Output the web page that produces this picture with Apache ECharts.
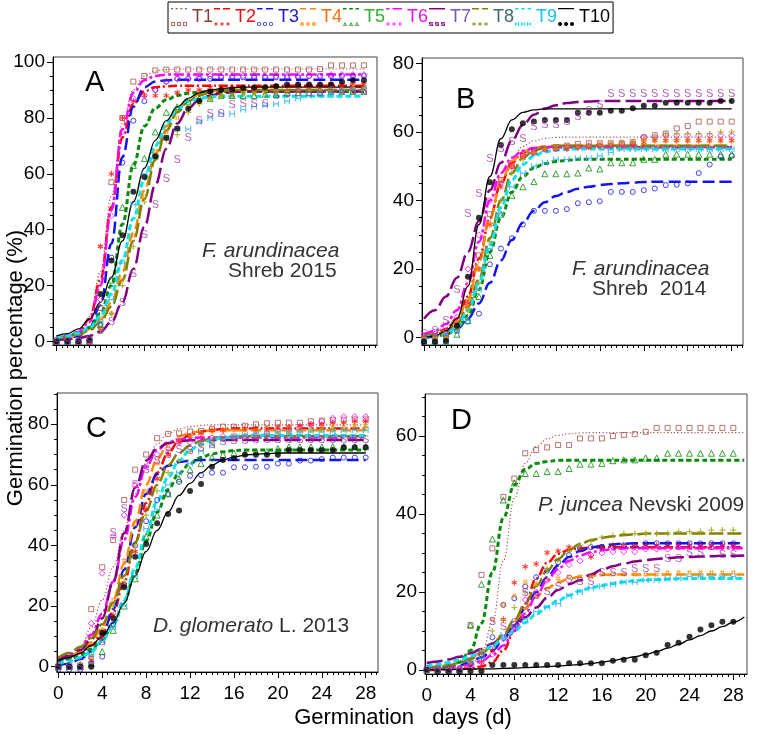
<!DOCTYPE html>
<html><head><meta charset="utf-8">
<script src="https://cdn.jsdelivr.net/npm/echarts@6/dist/echarts.min.js"></script>
<style>html,body{margin:0;padding:0;background:#fff}#c{width:758px;height:734px}</style>
</head><body><div id="c"></div>
<script>
// ---------------- DATA ----------------
const days  = [0,1,2,3,4,5,6,7,8,9,10,11,12,13,14,15,16,17,18,19,20,21,22,23,24,25,26,27,28];
const daysD = [0,1,2,3,4,5,6,7,8,9,10,11,12,13,14,15,16,17,18,19,20,21,22,23,24,25,26,27,28,29];
const names = ['T1','T2','T3','T4','T5','T6','T7','T8','T9','T10'];
const xLabelVals = [0,4,8,12,16,20,24,28];
const yLabelsA = [0,20,40,60,80,100];
const yLabelsB = [0,20,40,60,80];
const yLabelsC = [0,20,40,60,80];
const yLabelsD = [0,20,40,60];

// Panel A (F. arundinacea Shreb 2015) : fitted curves (c) and observed points (p)
const A_T1_c=[0.5,1,2.5,9,25,52,78,90,95,96.8,97.3,97.5,97.5,97.5,97.5,97.5,97.5,97.5,97.5,97.5,97.5,97.5,97.5,97.5,97.5,97.5,97.5,97.5,97.5];
const A_T1_p=[0,0,0,0,12,57,80,93,95,97,97.3,97.3,97.3,97.3,97.3,97.3,97.3,97.3,97.3,97.3,97.3,97.3,97.3,97.3,97.5,98.8,98.8,98.8,98.8];
const A_T2_c=[1,1.5,3,8,22,48,73,85,89.5,91,91.3,91.5,91.5,91.5,91.5,91.5,91.5,91.5,91.5,91.5,91.5,91.5,91.5,91.5,91.5,91.5,91.5,91.5,91.5];
const A_T2_p=[0,0,0,1,34,60,80,86,88,88,88,89,90,90,91,91,91,91,91,91,91.5,91.5,91.5,91.5,91.5,92,92,92,92];
const A_T3_c=[0.5,1,2,5,13,35,66,84,91,93,93.5,93.7,93.7,93.7,93.7,93.7,93.7,93.7,93.7,93.7,93.7,93.7,93.7,93.7,93.7,93.7,93.7,93.7,93.7];
const A_T3_p=[0,0,0,0,6,30,64,79,86,90,93,94,94,94,94,94.5,94.5,94.5,94.5,94.5,94.5,94.5,94.5,95,95,95,95,95,95];
const A_T4_c=[1,1.5,2.5,4.5,8,14,25,39,54,67,77,83,86.5,88.5,89.5,90,90,90,90,90,90,90,90,90,90,90,90,90,90];
const A_T4_p=[0,0,0,0,5,10,22,38,52,68,75,80,84,86,87,88,88,89,89,89,89.5,89.5,89.5,90,90,90,90,90.5,90.5];
const A_T5_c=[1.5,2,3,5,10,20,42,63,77,83.5,86.5,88,88.8,89.2,89.5,89.5,89.5,89.5,89.5,89.5,89.5,89.5,89.5,89.5,89.5,89.5,89.5,89.5,89.5];
const A_T5_p=[0,0,0,0,6,22,48,63,65.5,75,82,84,86,87,87,88,88,88,88,88.5,88.5,89,89,89,89,89.5,89.5,89.5,89.5];
const A_T6_c=[1,2,3.5,7,20,47,76,89,93.5,95,95.5,95.5,95.5,95.5,95.5,95.5,95.5,95.5,95.5,95.5,95.5,95.5,95.5,95.5,95.5,95.5,95.5,95.5,95.5];
const A_T6_p=[0,0,0,0,15,45,75,87,88,90,93,94,94,94.5,95,95,95,95,95,95,95,95,95,95,95,95.5,95.5,95.5,95.5];
const A_T7_c=[0.5,0.8,1.2,2,3.5,7,14,26,41,56,69,78,83.5,86.5,88,88.8,89.2,89.5,89.5,89.5,89.5,89.5,89.5,89.5,89.5,89.5,89.5,89.5,89.5];
const A_T7_p=[0,0,0,0,3.6,7,13.7,24,38,49,58,65,73,79,81.5,81.5,84.5,85,85,85,88,88.5,89,89,89,89.5,89.5,89.5,89.5];
const A_T8_c=[1,1.5,2.5,4,7,12.5,22,36,51,65,75.5,82,86,88,89.2,89.8,90,90,90,90,90,90,90,90,90,90,90,90,90];
const A_T8_p=[0,0,0,0,4,10,20,34,50,65.5,72,74,82,85,87,88,89,89,89,89.5,89.5,89.5,90,90,90,90,90,90.5,90.5];
const A_T9_c=[1.5,2,3,5,9,17,29,44,58,70,78,83,86,87,87.5,87.8,87.8,87.8,87.8,87.8,87.8,87.8,87.8,87.8,87.8,87.8,87.8,87.8,87.8];
const A_T9_p=[0,0,0,1,7,15,28,49,60,66,73,76,76,78.6,80,81.5,81.5,83,84,84.5,85,86,87,88,88.5,89,89.5,90,90];
const A_T10_c=[2,2.8,4.5,8,14,23,36,50,62,72,79,84,87,89,90,90.5,90.8,91,91,91,91,91,91,91,91,91,91,91,91];
const A_T10_p=[0,0,0,0.5,17,29,38,53.6,58.9,66.3,72.9,76.2,83.3,86.1,89.5,90,90.2,90.7,90.8,91,91.3,92,92,92,92,92,92.9,93.5,93.5];

// Panel B (F. arundinacea Shreb 2014)
const B_T1_c=[1,1.8,3,6,12,22,34,45,52,55.8,57.4,58.1,58.4,58.5,58.5,58.5,58.5,58.5,58.5,58.5,58.5,58.5,58.5,58.5,58.5,58.5,58.5,58.5,58.5];
const B_T1_p=[0,0,1,3,10,24,36,46,50,53,54,55,55.5,56,56.5,56.7,56.7,56.7,56.7,57,58.4,59,59.5,61,61.7,63,63,63,63];
const B_T2_c=[0.5,1,2.5,5.5,12,23,35,45,51,54,55,55.5,55.5,55.5,55.5,55.5,55.5,55.5,55.5,55.5,55.5,55.5,55.5,55.5,55.5,55.5,55.5,55.5,55.5];
const B_T2_p=[0,0,0,4,10,20,33,44,50,53,54,55,55,55,55.5,55.5,56,56,56,56.5,57,57.5,57.5,57.5,57.5,57.5,57.5,57.5,57.5];
const B_T3_c=[0,0.3,1,2.5,5.5,10,16,22.5,28.5,33.5,37,39.5,41.3,42.5,43.4,44,44.5,44.8,45,45.2,45.4,45.5,45.5,45.5,45.5,45.5,45.5,45.5,45.5];
const B_T3_p=[-1,-1,0,2,4.7,7,21.4,26,29,33,37,37,37,37.5,39.2,39.5,39.8,42.5,42.5,42.5,43,43.5,44.5,44.6,45,48,50.5,52.8,53];
const B_T4_c=[0.5,1,2,5,11,22,35,45.5,51.5,54.2,55.3,55.8,56,56,56,56,56,56,56,56,56,56,56,56,56,56,56,56,56];
const B_T4_p=[0,0,0,3,9,20,33,46,50,53,54,55,55.5,56,56,56,56.5,56.5,56.5,57,57,57.5,57.5,57.5,57.5,57.5,57.5,57.5,57.5];
const B_T5_c=[0,0.3,1,2.5,6.5,14,25,35,42.5,47,49.5,50.8,51.4,51.7,52,52,52,52,52,52,52,52,52,52,52,52,52,52,52];
const B_T5_p=[-1,-1,-1,1,5,12,24,36,41.5,44,45.5,47.8,47.8,47.8,48,49.5,49.2,51,51,51,52,52,53.5,53.5,53.5,53.5,53.5,53.5,53.5];
const B_T6_c=[1,2,4,8,16,28,40,48,52.5,54.5,55.3,55.6,55.6,55.6,55.6,55.6,55.6,55.6,55.6,55.6,55.6,55.6,55.6,55.6,55.6,55.6,55.6,55.6,55.6];
const B_T6_p=[0,1,2,6,20,30,40,45,50,53,54,55,55,55.5,55.5,56,56,56,56.5,56.5,58.5,58.5,59,59,59,59,59,59,59];
const B_T7_c=[5.5,8,12,17.5,25,34,43,51,57.5,62,65,66.8,67.8,68.4,68.7,68.9,69,69,69,69,69,69,69,69,69,69,69,69,69];
const B_T7_p=[1,2,5,14,36,42,52,55,57,58,61.5,62,62,63,64.5,66,67.8,71.2,71.2,71.2,71.2,71.2,71.2,71.2,71.2,71.2,71.2,71.2,71.2];
const B_T8_c=[0.5,1,2,4,9,17,29,40,48,52.5,54.5,55.5,56,56,56,56,56,56,56,56,56,56,56,56,56,56,56,56,56];
const B_T8_p=[0,0,0,2,8,16,28,40,48,52,54,55,55,55.5,55.5,56,56,56.5,57,57,58,58.5,59.5,59.5,59.5,59.5,59.5,60,60];
const B_T9_c=[0,0.5,1,3,8,16,27,38,46,50.5,53,54.2,54.7,55,55,55,55,55,55,55,55,55,55,55,55,55,55,55,55];
const B_T9_p=[-1,-1,-1,2,5,14,26,36,44,48,50,51,52,52,52.3,52.3,53,54,55,55,55,55,55,55,55,55,55,55,55];
const B_T10_c=[0,0.5,2,5.5,15,33,47,58,63.5,65.7,66.4,66.7,66.7,66.7,66.7,66.7,66.7,66.7,66.7,66.7,66.7,66.7,66.7,66.7,66.7,66.7,66.7,66.7,66.7];
const B_T10_p=[-1.2,-1.2,-1,3.5,17.8,35,45.3,56.2,60.8,62.5,63,63.5,63.5,63.5,65.6,65.6,65.6,66.2,66.2,66.9,67.6,67.6,68.5,68.5,68.5,68.5,68.5,69,69];

// Panel C (D. glomerato L. 2013)
const C_T1_c=[2,3.5,6,13,22,33,45,57,67,73.5,77,78.5,79.2,79.6,79.8,79.8,79.8,79.8,79.8,79.8,79.8,79.8,79.8,79.8,79.8,79.8,79.8,79.8,79.8];
const C_T1_p=[0,0,0,19,32.8,41.8,55,65,70,75.4,76.8,77,77.6,77.8,78.5,79.2,79.2,79.5,80,80.3,80.5,80.5,80.5,81,81.2,81.3,81.5,81.6,81.6];
const C_T2_c=[2,3,4.5,7,11,18,28,41,54,64,70.5,74.5,76.5,77.6,78.1,78.4,78.6,78.6,78.6,78.6,78.6,78.6,78.6,78.6,78.6,78.6,78.6,78.6,78.6];
const C_T2_p=[0,0,0,2,10,17,27,38,52,62,70,74,76,77,78,78,78.5,78.5,78.5,78.5,79,79,79.5,80,80,80.5,80.5,81,81];
const C_T3_c=[0.5,1,2.5,5,10,19,32,46,57,63.5,66.3,67.5,68,68.2,68.2,68.2,68.2,68.2,68.2,68.2,68.2,68.2,68.2,68.2,68.2,68.2,68.2,68.2,68.2];
const C_T3_p=[-1,-1,-1,1,3.3,14,27,40,48,55,57,61,63,63.2,64,64,65.8,65.8,66,66,67,67,68,68,68.5,69,69,69,69];
const C_T4_c=[2,3.3,5,8,13,22,34,48,60,68.5,73.5,76,77.2,77.7,78,78,78,78,78,78,78,78,78,78,78,78,78,78,78];
const C_T4_p=[0,0,0,3,12,22,35,47,58,67,72,75,76,77,77.5,78,78,78,78,78.5,78.5,78.5,78.5,79,79,79,79,79.5,79.5];
const C_T5_c=[1.5,2.5,3.8,5.8,9,14,21.5,31,41.5,51,58.5,63.8,67,69,70.2,70.9,71.3,71.5,71.5,71.5,71.5,71.5,71.5,71.5,71.5,71.5,71.5,71.5,71.5];
const C_T5_p=[0,0,0,1,5,12,20,29,43,50,57,62,65,67,69,70,70.5,70.5,71,71,72,72.5,72.5,72.5,72.5,72.6,72.6,72.6,72.6];
const C_T6_c=[2.5,4,6.5,10.5,17.5,28,42,56,66,71.5,74,75,75.4,75.6,75.6,75.6,75.6,75.6,75.6,75.6,75.6,75.6,75.6,75.6,75.6,75.6,75.6,75.6,75.6];
const C_T6_p=[0,0,0,14.3,30.8,43,50,60,66,70,72,74,74,75,75.5,76,76,76,76.5,77,78,78,79,80,81,82,82.5,82.5,82.5];
const C_T7_c=[2,3.5,5.5,9,16,28,44,59,68,72,73.8,74.4,74.7,74.8,74.8,74.8,74.8,74.8,74.8,74.8,74.8,74.8,74.8,74.8,74.8,74.8,74.8,74.8,74.8];
const C_T7_p=[0,0,0,2,8,44,52,60,65,68,70,71.5,71.3,72,73,74,74.5,74.5,74.8,74.8,74.8,74.8,74.8,74.8,74.8,74.8,74.8,74.8,74.8];
const C_T8_c=[3,4.5,6.5,9.5,14,21,30,41,51.5,60,66.5,70.5,73,74.5,75.3,75.7,76,76,76,76,76,76,76,76,76,76,76,76,76];
const C_T8_p=[0,0,1,4,12,20,28,40,50,58,64,68,71,73,74,75,75.5,76,76,76.5,77,77,77.5,78,78,78.5,78.5,79,79];
const C_T9_c=[1,1.8,3,5,8.5,14,22,32.5,44,54.5,62.5,68,71.5,73.5,74.8,75.5,76,76.3,76.3,76.3,76.3,76.3,76.3,76.3,76.3,76.3,76.3,76.3,76.3];
const C_T9_p=[0,0,0,3.9,8,13,20,30,45.6,52,60,64,67,71,73,75,76,76.5,77,77,77.5,77.5,77.5,77.5,77.5,77.5,78,78,78];
const C_T10_c=[2,3,4.5,7,10,14.5,21,30,38,45,51,56.5,60.5,64,66.5,68.2,69.2,69.8,70.1,70.3,70.5,70.5,70.5,70.5,70.5,70.5,70.5,70.5,70.5];
const C_T10_p=[0,0,0,0,11.2,16,26.2,36.3,40.5,47.3,50.4,51.5,58,60.3,66,68.2,68.8,69.9,69.9,69.9,69.9,71.5,71.5,71.5,71.5,71.5,72.4,72.4,72.4];

// Panel D (P. juncea Nevski 2009) : curves on daysD, points on days
const D_T1_c=[0,0,0.1,0.4,1.2,4,12,28,44,53,57.3,59.3,60.2,60.6,60.8,60.9,60.9,60.9,60.9,60.9,60.9,60.9,60.9,60.9,60.9,60.9,60.9,60.9,60.9,60.9];
const D_T1_p=[0,0,0,0,11.5,24.4,31.2,44.4,49.1,55.6,56.4,57.1,57.7,57.7,59.4,59.4,59.4,60,60.3,60.5,61.1,62.1,62.1,62.1,62.1,62.1,62.1,62.1,62.1];
const D_T2_c=[0,0,0.1,0.2,0.4,0.9,2,5,10,17,23.5,27.5,29.8,30.8,31.2,31.4,31.5,31.5,31.5,31.5,31.5,31.5,31.5,31.5,31.5,31.5,31.5,31.5,31.5,31.5];
const D_T2_p=[0,0,0,0,1,2,5,13,22.4,26.5,27.2,30.1,30.5,31.5,31,29,31.5,32,32,32,32,32,32,32,32,32,32,32,32];
const D_T3_c=[0.3,0.5,0.8,1.2,2,3.2,5,7.8,11.5,15.8,20,23.8,26.8,29,30.5,31.4,31.9,32.2,32.4,32.5,32.5,32.5,32.5,32.5,32.5,32.5,32.5,32.5,32.5,32.5];
const D_T3_p=[0,0,0,0,1.5,4,8.4,16.7,18.4,21.4,23.8,25.5,27.6,29.5,31.2,31.5,31.6,31.6,32,32,32.5,32.5,32.5,32.5,32.5,32.5,32.5,32.5,32.5];
const D_T4_c=[0.5,0.8,1.3,2,3,4.5,6.5,9.3,12.5,15.8,18.8,21,22.5,23.4,23.9,24.2,24.4,24.5,24.5,24.5,24.5,24.5,24.5,24.5,24.5,24.5,24.5,24.5,24.5,24.5];
const D_T4_p=[0,0,0,0,2,5,13,16.7,19,22.6,22,23,23.5,24,24,24,24.5,24.5,24.5,24.5,24.5,24.5,25,25,25,25,25,25,25];
const D_T5_c=[0.1,0.3,0.8,2,5,12,25,39,47.5,51.5,53,53.5,53.8,53.8,53.8,53.8,53.8,53.8,53.8,53.8,53.8,53.8,53.8,53.8,53.8,53.8,53.8,53.8,53.8,53.8];
const D_T5_p=[0,0,0,0,11.5,22,33.6,43.6,48,50.4,50.4,50.9,50.9,51.7,52.8,52.8,53,53.7,53.9,53.9,54.4,54.4,55.6,55.6,55.6,55.6,55.6,55.6,55.6];
const D_T6_c=[0.2,0.3,0.5,0.8,1.4,2.3,3.8,6.3,10,14.5,19,23,26,28,29.4,30.2,30.7,31,31.2,31.2,31.2,31.2,31.2,31.2,31.2,31.2,31.2,31.2,31.2,31.2];
const D_T6_p=[0,0,0,0,1,2,4,8,11,18,20,23,25,27,28,29.5,30,30.3,30.3,30.3,31,31,31,31.5,31.5,31.5,31.5,31.5,31.5];
const D_T7_c=[1.8,2.2,2.7,3.4,4.3,5.4,6.8,8.7,11,13.5,16,18.5,20.5,22,23,24.5,25.7,26.6,27.3,27.8,28.2,28.5,28.7,28.9,29,29.1,29.2,29.3,29.3,29.4];
const D_T7_p=[0,0,0,0,2,4,12.4,11,12,19.7,19,20,21.4,23,22.6,22.6,24.8,24.8,24.8,26,26,26,28.6,28.6,29.9,29.9,31.6,29.5,29.5];
const D_T8_c=[0.5,0.8,1.2,1.8,2.8,4.2,6.2,9,12.8,17,21.5,25.5,28.5,30.8,32.3,33.3,33.9,34.3,34.6,34.8,35,35,35,35,35,35,35,35,35,35];
const D_T8_p=[0,0,0,0,2,4,10,12.8,16,20,22,26,28,30.5,32,33,34,34.5,35,35,35,35,35,35.5,35.5,35.5,35.9,35.9,35.9];
const D_T9_c=[1,1.4,1.9,2.6,3.5,4.7,6.2,8,10,12.2,14.3,16.2,17.8,19.2,20.3,21.1,21.7,22.2,22.6,22.9,23.1,23.2,23.3,23.4,23.4,23.5,23.5,23.5,23.5,23.5];
const D_T9_p=[0,0,0,0,2,3,6,9,11,13,15,16,17,19,20,21,21.5,22,22.5,22.5,23,23,23.5,23.5,24,24,24,24,24];
const D_T10_c=[0,0.1,0.1,0.2,0.2,0.3,0.3,0.4,0.5,0.6,0.7,0.9,1,1.2,1.4,1.7,2,2.4,2.9,3.4,4,4.7,5.6,6.6,7.7,8.8,10,11.1,12.3,13.6];
const D_T10_p=[0,-0.3,-0.3,-0.3,-0.3,-0.3,1.3,1.3,1.3,1.3,1.3,1.3,1.3,1.7,1.7,1.7,1.7,2.4,2.6,2.6,3.8,4.4,6.4,7,8.5,10.4,11.5,12.4,12.4];

// ---------------- LAYOUT / STYLE ----------------
const FONT = '"Liberation Sans", Arial, Helvetica, sans-serif';
const panels = [
  {grid:{left:53,top:57,width:324,height:288}, x:[-0.32,29.19], y:[-1.25,101.8], yl:yLabelsA, xl:false, cd:days,
   c:[A_T1_c,A_T2_c,A_T3_c,A_T4_c,A_T5_c,A_T6_c,A_T7_c,A_T8_c,A_T9_c,A_T10_c],
   p:[A_T1_p,A_T2_p,A_T3_p,A_T4_p,A_T5_p,A_T6_p,A_T7_p,A_T8_p,A_T9_p,A_T10_p]},
  {grid:{left:422,top:58,width:321,height:287}, x:[-0.18,29.03], y:[-2.13,81.55], yl:yLabelsB, xl:false, cd:days,
   c:[B_T1_c,B_T2_c,B_T3_c,B_T4_c,B_T5_c,B_T6_c,B_T7_c,B_T8_c,B_T9_c,B_T10_c],
   p:[B_T1_p,B_T2_p,B_T3_p,B_T4_p,B_T5_p,B_T6_p,B_T7_p,B_T8_p,B_T9_p,B_T10_p]},
  {grid:{left:57,top:393,width:321,height:279}, x:[-0.12,29.12], y:[-1.75,90.3], yl:yLabelsC, xl:true, cd:days,
   c:[C_T1_c,C_T2_c,C_T3_c,C_T4_c,C_T5_c,C_T6_c,C_T7_c,C_T8_c,C_T9_c,C_T10_c],
   p:[C_T1_p,C_T2_p,C_T3_p,C_T4_p,C_T5_p,C_T6_p,C_T7_p,C_T8_p,C_T9_p,C_T10_p]},
  {grid:{left:425,top:394,width:322,height:280}, x:[-0.155,29.25], y:[-1.03,70.8], yl:yLabelsD, xl:true, cd:daysD,
   c:[D_T1_c,D_T2_c,D_T3_c,D_T4_c,D_T5_c,D_T6_c,D_T7_c,D_T8_c,D_T9_c,D_T10_c],
   p:[D_T1_p,D_T2_p,D_T3_p,D_T4_p,D_T5_p,D_T6_p,D_T7_p,D_T8_p,D_T9_p,D_T10_p]}
];

function rect(x0,y0,x1,y1){return [[x0,y0],[x1,y0],[x1,y1],[x0,y1]];}
function ngon(cx,cy,r,n,rev){const a=[];for(let k=0;k<n;k++){const t=(rev?-1:1)*2*Math.PI*k/n;a.push([cx+r*Math.cos(t),cy+r*Math.sin(t)]);}return a;}
function poly2path(polys,s,ox,oy){return polys.map(p=>'M'+p.map(q=>(ox+q[0]*s).toFixed(2)+','+(oy+q[1]*s).toFixed(2)).join('L')+'Z').join(' ');}
const SHAPES = {
  sq:[rect(0,0,10,10),[[2,2],[2,8],[8,8],[8,2]]],
  star:[rect(4.2,0,5.8,10),[[1.42,1.82],[9.42,6.82],[8.58,8.18],[0.58,3.18]],[[0.58,6.82],[8.58,1.82],[9.42,3.18],[1.42,8.18]]],
  circ:[ngon(5,5,5,16,false),ngon(5,5,3.2,16,true)],
  hash:[rect(2,0,3.6,10),rect(6.4,0,8,10),rect(0,2,10,3.6),rect(0,6.4,10,8)],
  tri:[[[5,0],[10,10],[0,10]],[[5,3.5],[2.5,8.5],[7.5,8.5]]],
  dia:[[[5,0],[10,5],[5,10],[0,5]],[[5,2.5],[2.5,5],[5,7.5],[7.5,5]]],
  S:[rect(0,0,10,2),rect(0,0,2,6),rect(0,4,10,6),rect(8,4,10,10),rect(0,8,10,10)],
  plus:[rect(4,0,6,10),rect(0,4,10,6)],
  H:[rect(0,0,2,10),rect(8,0,10,10),rect(0,4,10,6)],
  dot:[ngon(5,5,5,16,false)]
};
// legend icon box is 16 x 18
const STY = [
  {c:'#A8504A', t:'#8B3A3A', dash:[1.2,2.2], w:1.2, shape:'sq',  sym:'rect', hollow:true, size:5, seg:[[0,2],[4.7,6.7],[9.3,11.3],[14,16]], th:1.2},
  {c:'#FF0000', t:'#E81010', dash:[9,3,2,3], w:2.5, shape:'star', sym:'path', size:6, seg:[[0,6],[9,16]], th:1.6},
  {c:'#1414F0', t:'#1818D0', dash:[12,5], w:2.5, shape:'circ', sym:'circle', hollow:true, size:5, seg:[[0,5.5],[9,16]], th:1.6},
  {c:'#FF8A00', t:'#F07010', dash:[10,5], w:2.5, shape:'hash', sym:'path', size:5, seg:[[0,6],[10,16]], th:1.6},
  {c:'#0A8A0A', t:'#30B030', dash:[5,3], w:3, shape:'tri', sym:'triangle', hollow:true, size:6, seg:[[0,3.5],[6.2,9.8],[12.5,16]], th:1.6},
  {c:'#FF00FF', t:'#F010F0', dash:[10,3,3,3], w:2.5, shape:'dia', sym:'diamond', hollow:true, size:6, seg:[[0,3.5],[6.5,16]], th:1.6},
  {c:'#800080', t:'#7A55B5', dash:[16,5], w:2.5, shape:'S', sym:'S', size:11, seg:[[0,16]], th:1.6, pc:'#9A3AA8'},
  {c:'#808000', t:'#406868', dash:[14,4], w:2.5, shape:'plus', sym:'path', size:6, seg:[[0,7],[10,16]], th:1.6, pc:'#A0A010'},
  {c:'#00E4F0', t:'#18C0F0', dash:[6,3], w:3, shape:'H', sym:'path', size:6, seg:[[0,3.5],[6.2,9.8],[12.5,16]], th:1.6, pc:'#30B4EE'},
  {c:'#000000', t:'#000000', dash:'solid', w:1.3, shape:'dot', sym:'circle', size:6, seg:[[0,16]], th:1.3}
];
function legendIcon(s){
  let p = poly2path(s.seg.map(g=>rect(g[0],0,g[1],s.th)),1,0,0);
  [0,6,12].forEach(ox=>{ p += ' ' + poly2path(SHAPES[s.shape],0.4,ox,14); });
  return 'path://' + p;
}

const grids=[], xAxes=[], yAxes=[], series=[];
const xMinorTicks=[]; for(let k=0;k<=58;k++) xMinorTicks.push(k/2);
panels.forEach((P,pi)=>{
  grids.push(Object.assign({show:true,borderColor:'#444',borderWidth:1,backgroundColor:'transparent'},P.grid));
  // main x axis (labels + major ticks)
  xAxes.push({type:'value',gridIndex:pi,position:'bottom',min:P.x[0],max:P.x[1],
    axisLine:{show:true,onZero:false,lineStyle:{color:'#000',width:1}},
    axisTick:{show:true,customValues:xLabelVals,length:6,lineStyle:{color:'#000',width:1}},
    axisLabel:{show:P.xl,customValues:xLabelVals,fontSize:19,color:'#000',margin:12,fontFamily:FONT},
    splitLine:{show:false}});
  // minor x ticks
  xAxes.push({type:'value',gridIndex:pi,position:'bottom',min:P.x[0],max:P.x[1],
    axisLine:{show:false,onZero:false},
    axisTick:{show:true,customValues:xMinorTicks,length:3,lineStyle:{color:'#000',width:1}},
    axisLabel:{show:false},splitLine:{show:false}});
  const yMinor=[]; for(let v=0; v<=P.y[1]; v+=5) yMinor.push(v);
  yAxes.push({type:'value',gridIndex:pi,position:'left',min:P.y[0],max:P.y[1],
    axisLine:{show:true,onZero:false,lineStyle:{color:'#000',width:1}},
    axisTick:{show:true,customValues:P.yl,length:6,lineStyle:{color:'#000',width:1}},
    axisLabel:{customValues:P.yl,fontSize:19,color:'#000',margin:8,fontFamily:FONT},
    splitLine:{show:false}});
  yAxes.push({type:'value',gridIndex:pi,position:'left',min:P.y[0],max:P.y[1],
    axisLine:{show:false,onZero:false},
    axisTick:{show:true,customValues:yMinor,length:3,lineStyle:{color:'#000',width:1}},
    axisLabel:{show:false},splitLine:{show:false}});
  const xi = pi*2, yi = pi*2;
  P.c.forEach((cv,ti)=>{
    const s=STY[ti];
    series.push({type:'line',name:names[ti],xAxisIndex:xi,yAxisIndex:yi,
      data:P.cd.map((d,k)=>[d,cv[k]]),smooth:0.4,smoothMonotone:'x',showSymbol:false,symbol:'none',
      lineStyle:{color:s.c,width:s.w,type:s.dash},itemStyle:{color:s.c},z:2,silent:true,animation:false});
  });
  P.p.forEach((pv,ti)=>{
    const s=STY[ti];
    const base={type:'scatter',name:names[ti],xAxisIndex:xi,yAxisIndex:yi,
      data:days.map((d,k)=>[d,pv[k]]),z:3,silent:true,animation:false};
    if(s.sym==='S'){
      Object.assign(base,{symbol:'circle',symbolSize:1,itemStyle:{color:'rgba(0,0,0,0)'},
        label:{show:true,position:'inside',formatter:'S',color:s.pc,fontSize:s.size,fontFamily:FONT}});
    } else if(s.sym==='path'){
      Object.assign(base,{symbol:'path://'+poly2path(SHAPES[s.shape],1,0,0),symbolSize:s.size,itemStyle:{color:s.pc||s.c}});
    } else if(s.hollow){
      Object.assign(base,{symbol:s.sym,symbolSize:s.size,itemStyle:{color:'rgba(255,255,255,0)',borderColor:s.c,borderWidth:1}});
    } else {
      Object.assign(base,{symbol:s.sym,symbolSize:s.size,itemStyle:{color:s.c}});
    }
    series.push(base);
  });
});

const anno = [
  {t:'A', x:85, y:83, size:29}, {t:'B', x:456, y:100, size:29}, {t:'C', x:86, y:429, size:29}, {t:'D', x:451, y:421, size:29}
];
const graphics = anno.map(a=>({type:'text',left:a.x,top:a.y-a.size*0.5,silent:true,
  style:{text:a.t,fontSize:a.size,fontFamily:FONT,fill:'#000'}}));
function richText(txt,x,y){
  return {type:'text',left:x,top:y-11,silent:true,
    style:{text:txt,fontSize:21,fontFamily:FONT,fill:'#333',
      rich:{i:{fontStyle:'italic',fontSize:21,fontFamily:FONT,fill:'#333'}}}};
}
graphics.push(richText('{i|F. arundinacea}',202,252));
graphics.push(richText('Shreb 2015',228,272));
graphics.push(richText('{i|F. arundinacea}',572,270));
graphics.push(richText('Shreb  2014',592,290));
graphics.push(richText('{i|D. glomerato} L. 2013',153,627));
graphics.push(richText('{i|P. juncea} Nevski 2009',538,506));
graphics.push({type:'text',x:16,y:368,rotation:Math.PI/2,silent:true,
  style:{text:'Germination percentage (%)',fontSize:22,fontFamily:FONT,fill:'#000',align:'center',verticalAlign:'middle'}});
graphics.push({type:'text',x:403,y:718,silent:true,
  style:{text:'Germination   days (d)',fontSize:22,fontFamily:FONT,fill:'#000',align:'center',verticalAlign:'middle'}});

const chart = echarts.init(document.getElementById('c'),null,{renderer:'canvas'});
chart.setOption({
  animation:false,
  backgroundColor:'#fff',
  legend:{left:168,top:2,itemWidth:16,itemHeight:18,itemGap:1,padding:[6,3,7,3],
    borderColor:'#000',borderWidth:1,selectedMode:false,
    textStyle:{fontSize:18,fontFamily:FONT},
    itemStyle:{borderWidth:0},
    data:names.map((n,i)=>({name:n,icon:legendIcon(STY[i]),itemStyle:{color:STY[i].c,borderWidth:0},textStyle:{color:STY[i].t,fontSize:18,fontFamily:FONT}}))},
  grid:grids, xAxis:xAxes, yAxis:yAxes, series:series, graphic:graphics
});
</script></body></html>
